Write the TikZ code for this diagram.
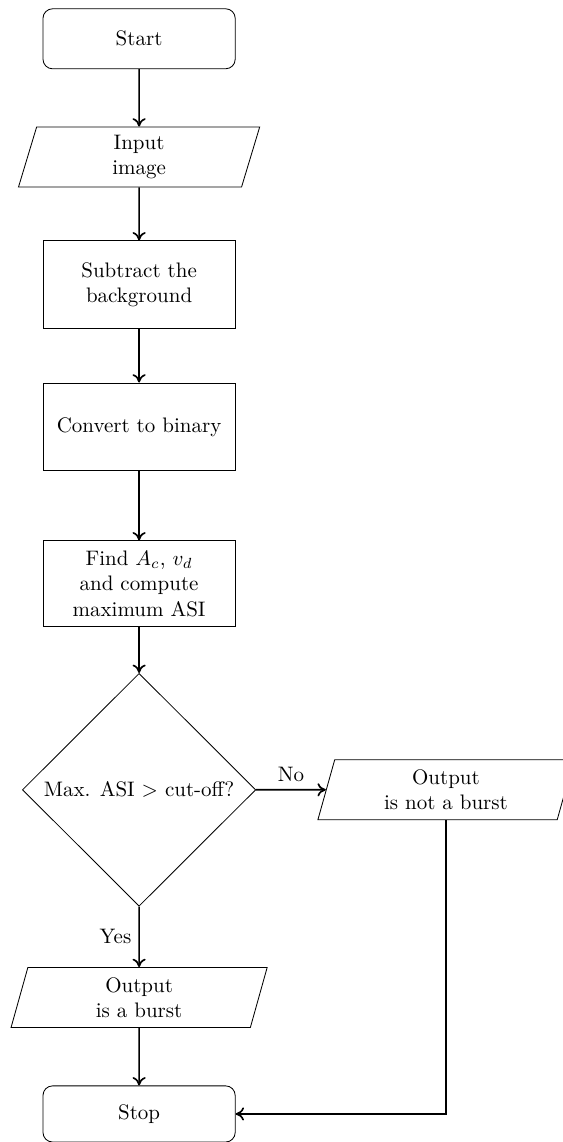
\documentclass[tikz,border=0pt]{standalone}
\usepackage{amsmath,amssymb}
\usepackage{tikz}
\usetikzlibrary{calc,positioning,shapes.geometric,arrows.meta}

\begin{document}
\begin{tikzpicture}[x=1mm,y=1mm,
        term/.style={draw,rounded corners=1.6mm,minimum width=32.2mm,minimum height=10.05mm,align=center},
        proc/.style={draw,minimum width=32.2mm,minimum height=14.7mm,align=center},
        io/.style={draw,trapezium,trapezium left angle=70,trapezium right angle=110,trapezium stretches body=true,minimum width=42.9mm,minimum height=10.05mm,align=center,inner sep=0.5mm},
        dec/.style={draw,diamond,minimum width=39.1mm,minimum height=39mm,inner sep=0.5mm,align=center},
        ar/.style={-{To[length=1.4mm,width=2.2mm]},thick}]
        \useasboundingbox (0,0) rectangle (94.3,-191.3);
        \node[term] (start) at (23.3,-6.5) {Start};
        \node[io,minimum width=40.4mm] (inp) at (23.3,-26.3) {Input\\image};
        \node[proc] (sub) at (23.3,-47.7) {Subtract the\\background};
        \node[proc] (bin) at (23.3,-71.5) {Convert to binary};
        \node[proc,minimum height=14.4mm] (asi) at (23.3,-97.8) {Find $A_c$, $v_d$\\and compute\\maximum ASI};
        \node[dec] (cut) at (23.3,-132.3) {Max. ASI $>$ cut-off?};
        \node[io] (nob) at (74.7,-132.3) {Output\\is not a burst};
        \node[io] (bur) at (23.3,-167.1) {Output\\is a burst};
        \node[term,minimum height=9.4mm] (stop) at (23.3,-186.6) {Stop};
        \foreach \a/\b in {start/inp,inp/sub,sub/bin,bin/asi,asi/cut,bur/stop}{\draw[ar] (\a) -- (\b);}
        \draw[ar] (cut) -- node[left] {Yes} (bur);
        \draw[ar] (cut) -- node[above] {No} (nob);
        \draw[ar] (nob.south) |- (stop.east);
      \end{tikzpicture}
\end{document}
